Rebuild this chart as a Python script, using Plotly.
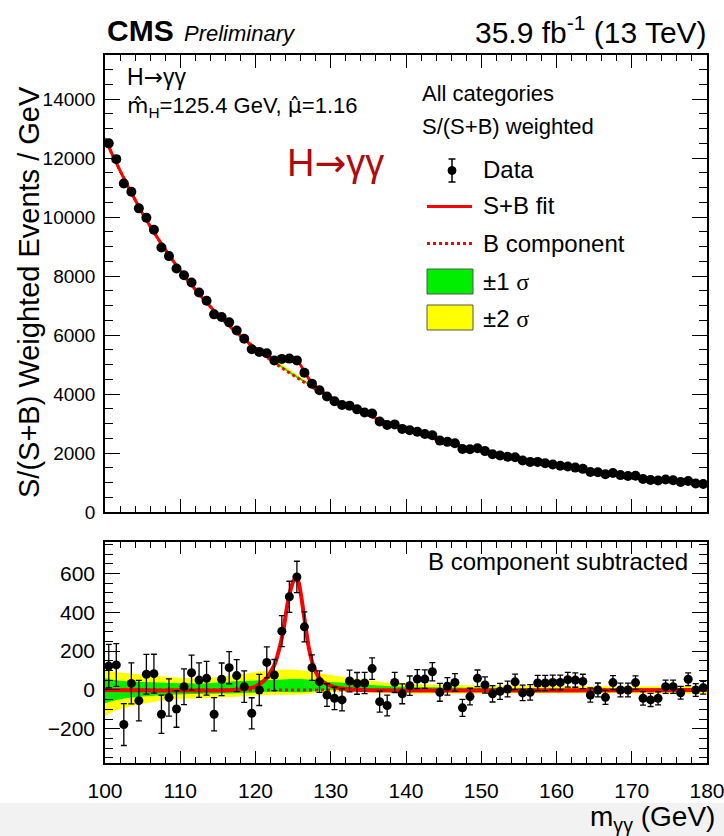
import numpy as np
import plotly.graph_objects as go

# ---------------- data ----------------
mass = np.arange(100.5, 180.0, 1.0)  # bin centres (1 GeV bins)

bkg = [12380, 11839, 11322, 10827, 10354, 9900, 9489, 9095, 8718, 8356,
       8010, 7697, 7396, 7107, 6829, 6560, 6317, 6082, 5857, 5639,
       5430, 5244, 5064, 4890, 4722, 4560, 4397, 4239, 4088, 3941,
       3800, 3678, 3561, 3447, 3337, 3230, 3128, 3028, 2932, 2839,
       2750, 2667, 2587, 2509, 2433, 2360, 2292, 2227, 2163, 2100,
       2040, 1981, 1923, 1867, 1813, 1760, 1711, 1664, 1618, 1574,
       1530, 1492, 1455, 1419, 1384, 1350, 1316, 1284, 1252, 1220,
       1190, 1163, 1136, 1110, 1085, 1060, 1029, 998, 969, 940]

resid = [123, 129, -178, 34, -55, 81, 84, -125, -39, -98,
         17, 89, 51, 60, -125, 55, 115, 74, 17, -120,
         0, 142, 77, 303, 480, 582, 325, 115, 43, -26,
         -43, -51, 46, 34, 36, 110, -60, -80, 39, -20,
         22, 56, 56, 94, -12, 19, 39, -92, -34, 60,
         26, -20, -7, 5, 42, -15, -12, 36, 36, 39,
         39, 53, 51, 44, -26, 0, -38, 38, 0, 0,
         38, -43, -51, -43, 17, 17, -14, 55, 0, 12]

err = [112, 110, 108, 106, 104, 102, 100, 98, 96, 94,
       92, 90, 89, 87, 86, 84, 83, 82, 81, 80,
       80, 80, 80, 80, 80, 81, 77, 66, 55, 58,
       58, 57, 56, 56, 55, 55, 54, 53, 52, 51,
       50, 49, 48, 47, 46, 45, 45, 44, 43, 43,
       42, 42, 41, 41, 40, 40, 40, 39, 39, 38,
       38, 38, 37, 37, 37, 36, 36, 36, 35, 35,
       35, 35, 34, 34, 34, 34, 33, 33, 33, 33]

# background curve end points
bkg_edge_x = [100.0, 180.0]
bkg_edge_y = [12660, 926]

# signal component (S+B fit minus B)
sig_x = [117, 119, 120, 120.7, 121.5, 122, 122.5, 122.9, 123.6, 124.2, 124.7, 125.1,
         125.4, 125.7, 126.0, 126.5, 127.1, 127.8, 128.7, 130, 131, 132.5, 134]
sig_y = [0, 8, 18, 35, 62, 92, 128, 175, 285, 430, 522, 565,
         572, 558, 500, 368, 214, 112, 51, 22, 10, 4, 0]

# uncertainty bands relative to B component
band_x = [100, 101.5, 104, 108, 113, 118, 122, 126, 129.5, 133, 137, 142, 150, 160, 170, 180]
y2_up = [106, 92, 82, 68, 60, 80, 102, 102, 80, 60, 40, 30, 24, 20, 19, 22]
y2_lo = [-136, -105, -80, -51, -42, -34, -25, -23, -10, -9, -15, -18, -18, -17, -17, -22]
y1_up = [60, 50, 42, 37, 34, 46, 51, 56, 42, 34, 22, 15, 11, 9, 9, 11]
y1_lo = [-68, -52, -37, -26, -20, -17, -9, -12, 0, 4, -3, -8, -9, -9, -9, -11]

x_ticks = [100, 110, 120, 130, 140, 150, 160, 170, 180]
y_ticks_top = [0, 2000, 4000, 6000, 8000, 10000, 12000, 14000]
y_ticks_bot = [-200, 0, 200, 400, 600]

# ---------------- derived curves ----------------
bkg_arr = np.array(bkg, dtype=float)
data_top = bkg_arr + np.array(resid, dtype=float)

bx = np.concatenate([[bkg_edge_x[0]], mass, [bkg_edge_x[1]]])
by = np.concatenate([[bkg_edge_y[0]], bkg_arr, [bkg_edge_y[1]]])


def bkg_at(x):
    return np.exp(np.interp(x, bx, np.log(by)))


grid = np.unique(np.concatenate([bx, np.array(sig_x, dtype=float)]))
sb_top = bkg_at(grid) + np.interp(grid, sig_x, sig_y, left=0, right=0)

b_on_grid = bkg_at(bx)
t2_lo = b_on_grid + np.interp(bx, band_x, y2_lo)
t2_up = b_on_grid + np.interp(bx, band_x, y2_up)
t1_lo = b_on_grid + np.interp(bx, band_x, y1_lo)
t1_up = b_on_grid + np.interp(bx, band_x, y1_up)

sig_full_x = [100.0] + list(sig_x) + [180.0]
sig_full_y = [0] + list(sig_y) + [0]

YELLOW = "#ffff00"
GREEN = "#00ee00"
RED = "#ff0000"
FONT = "Liberation Sans"

fig = go.Figure()

# ---- top panel ----
fig.add_trace(go.Scatter(x=bx, y=t2_lo, mode="lines", line=dict(width=0), hoverinfo="skip", showlegend=False, xaxis="x", yaxis="y"))
fig.add_trace(go.Scatter(x=bx, y=t2_up, mode="lines", line=dict(width=0), fill="tonexty", fillcolor=YELLOW, hoverinfo="skip", showlegend=False, xaxis="x", yaxis="y"))
fig.add_trace(go.Scatter(x=bx, y=t1_lo, mode="lines", line=dict(width=0), hoverinfo="skip", showlegend=False, xaxis="x", yaxis="y"))
fig.add_trace(go.Scatter(x=bx, y=t1_up, mode="lines", line=dict(width=0), fill="tonexty", fillcolor=GREEN, hoverinfo="skip", showlegend=False, xaxis="x", yaxis="y"))
fig.add_trace(go.Scatter(x=bx, y=by, mode="lines", line=dict(color=RED, width=3, dash="dot", shape="spline"), showlegend=False, xaxis="x", yaxis="y"))
fig.add_trace(go.Scatter(x=grid, y=sb_top, mode="lines", line=dict(color=RED, width=3, shape="spline"), showlegend=False, xaxis="x", yaxis="y"))
fig.add_trace(go.Scatter(x=mass, y=data_top, mode="markers",
                         marker=dict(color="black", size=10),
                         error_y=dict(type="data", array=err, color="black", thickness=1.3, width=3),
                         showlegend=False, xaxis="x", yaxis="y"))

# ---- bottom panel ----
fig.add_trace(go.Scatter(x=band_x, y=y2_lo, mode="lines", line=dict(width=0, shape="spline"), hoverinfo="skip", showlegend=False, xaxis="x2", yaxis="y2"))
fig.add_trace(go.Scatter(x=band_x, y=y2_up, mode="lines", line=dict(width=0, shape="spline"), fill="tonexty", fillcolor=YELLOW, hoverinfo="skip", showlegend=False, xaxis="x2", yaxis="y2"))
fig.add_trace(go.Scatter(x=band_x, y=y1_lo, mode="lines", line=dict(width=0, shape="spline"), hoverinfo="skip", showlegend=False, xaxis="x2", yaxis="y2"))
fig.add_trace(go.Scatter(x=band_x, y=y1_up, mode="lines", line=dict(width=0, shape="spline"), fill="tonexty", fillcolor=GREEN, hoverinfo="skip", showlegend=False, xaxis="x2", yaxis="y2"))
fig.add_trace(go.Scatter(x=[100, 180], y=[0, 0], mode="lines", line=dict(color=RED, width=3, dash="dot"), showlegend=False, xaxis="x2", yaxis="y2"))
fig.add_trace(go.Scatter(x=sig_full_x, y=sig_full_y, mode="lines", line=dict(color=RED, width=4, shape="spline", smoothing=0.8), showlegend=False, xaxis="x2", yaxis="y2"))
fig.add_trace(go.Scatter(x=mass, y=resid, mode="markers",
                         marker=dict(color="black", size=9),
                         error_y=dict(type="data", array=err, color="black", thickness=1.3, width=3),
                         showlegend=False, xaxis="x2", yaxis="y2"))

# ---------------- layout helpers (pixel -> paper) ----------------
ML, MR, MT, MB = 105, 17, 55, 73
W, H = 724, 836
PW, PH = W - ML - MR, H - MT - MB


def PX(x):
    return (x - ML) / PW


def PY(y):
    return (H - MB - y) / PH


axis_common = dict(showline=True, linecolor="black", linewidth=1.5, mirror="allticks",
                   ticks="inside", tickcolor="black", tickwidth=1.3, showgrid=False,
                   zeroline=False, automargin=False)

XR = [99.999, 180.001]

fig.update_layout(
    width=W, height=H,
    margin=dict(l=ML, r=MR, t=MT, b=MB, autoexpand=False),
    paper_bgcolor="white", plot_bgcolor="white",
    font=dict(family=FONT, color="black"),
    xaxis=dict(domain=[0, 1], anchor="y", range=XR, tickvals=x_ticks, showticklabels=False,
               ticklen=13, minor=dict(ticks="inside", ticklen=6, dtick=2, tickcolor="black", tickwidth=1),
               **axis_common),
    yaxis=dict(domain=[PY(512), 1], anchor="x", range=[0, 15500], tickvals=y_ticks_top,
               tickformat="d", ticklen=15,
               tickfont=dict(size=19, family=FONT), ticklabelstandoff=4,
               minor=dict(ticks="inside", ticklen=8, dtick=500, tickcolor="black", tickwidth=1),
               **axis_common),
    xaxis2=dict(domain=[0, 1], anchor="y2", range=XR, tickvals=x_ticks, ticklen=12,
                tickfont=dict(size=21, family=FONT), ticklabelstandoff=8,
                ticklabeloverflow="allow",
                minor=dict(ticks="inside", ticklen=6, dtick=2, tickcolor="black", tickwidth=1),
                **axis_common),
    yaxis2=dict(domain=[0, PY(542)], anchor="x2", range=[-376, 762], ticklen=15,
                tickvals=y_ticks_bot, tickformat="d",
                tickfont=dict(size=21, family=FONT), ticklabelstandoff=4,
                minor=dict(ticks="inside", ticklen=8, dtick=50, tickcolor="black", tickwidth=1),
                **axis_common),
)

ann = []


def text(x, y, s, size, xanchor="left", color="black", angle=0):
    ann.append(dict(x=PX(x), y=PY(y), xref="paper", yref="paper", text=s, showarrow=False,
                    xanchor=xanchor, yanchor="middle", textangle=angle,
                    font=dict(size=size, color=color, family=FONT)))


ARROW = '<span style="font-family:DejaVu Sans">\u2192</span>'
MHAT = '<span style="font-family:DejaVu Sans">m\u0302</span>'
MUHAT = '<span style="font-family:DejaVu Sans">\u03bc\u0302</span>'

text(105, 30, "<b>CMS</b>", 30)
text(182, 33, "<i>Preliminary</i>", 22)
text(709, 30, "35.9 fb<sup>-1</sup> (13 TeV)", 30, xanchor="right")
text(125, 77, "H" + ARROW + "\u03b3\u03b3", 23)
text(125, 107, MHAT + "<sub>H</sub>=125.4 GeV, " + MUHAT + "=1.16", 22)
text(420, 93, "All categories", 22)
text(420, 126, "S/(S+B) weighted", 22)
text(285, 163, "H" + ARROW + "\u03b3\u03b3", 38, color="#b00a0a")
sig = '<span style="font-family:Liberation Serif">\u03c3</span>'
text(481, 169, "Data", 24)
text(481, 206, "S+B fit", 24)
text(481, 243, "B component", 24)
text(481, 281, "\u00b11 " + sig, 24)
text(481, 318, "\u00b12 " + sig, 24)
text(690, 561, "B component subtracted", 24, xanchor="right")
text(29, 292, "S/(S+B) Weighted Events / GeV", 29, xanchor="center", angle=-90)
text(717, 818, "m<sub>\u03b3\u03b3</sub> (GeV)", 28, xanchor="right")
fig.update_layout(annotations=ann)

shapes = []


def pshape(kind, x0, y0, x1, y1, **kw):
    d = dict(type=kind, xref="paper", yref="paper", x0=PX(x0), x1=PX(x1), y0=PY(y0), y1=PY(y1))
    d.update(kw)
    shapes.append(d)


# gray strip at the bottom of the page
pshape("rect", 0, 803, 724, 836, fillcolor="#f2f2f2", line=dict(width=0), layer="below")
# legend symbols
pshape("line", 452, 159, 452, 182, line=dict(color="black", width=1.5))
pshape("line", 448.5, 159, 455.5, 159, line=dict(color="black", width=1.5))
pshape("line", 448.5, 182, 455.5, 182, line=dict(color="black", width=1.5))
pshape("circle", 448, 166.5, 456, 174.5, fillcolor="black", line=dict(color="black", width=1))
pshape("line", 427, 206.5, 472, 206.5, line=dict(color=RED, width=3))
pshape("line", 427, 243.5, 472, 243.5, line=dict(color=RED, width=3, dash="dot"))
pshape("rect", 427, 269, 473, 294, fillcolor=GREEN, line=dict(color="#555555", width=1))
pshape("rect", 427, 305, 473, 330, fillcolor=YELLOW, line=dict(color="#555555", width=1))
fig.update_layout(shapes=shapes)

fig.write_html("out.html")
